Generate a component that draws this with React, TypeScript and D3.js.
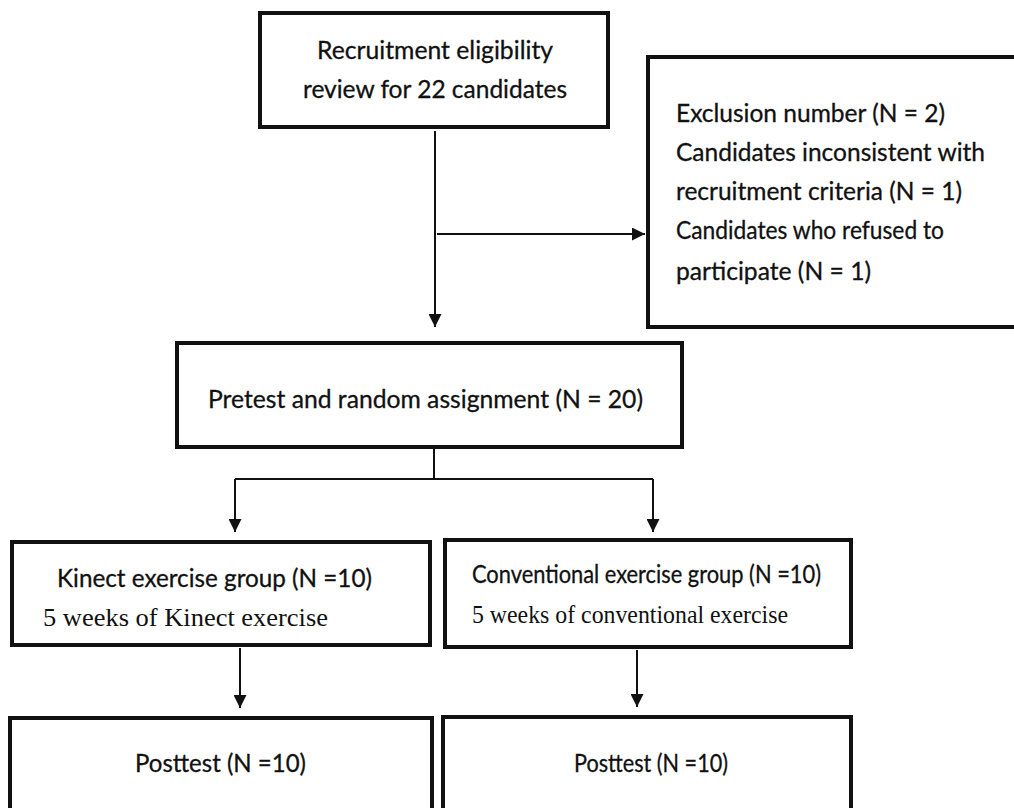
import React, { useEffect, useRef } from 'react';
import * as d3 from 'd3';

// Boxes of the flow chart: [x0, y0, x1, y1]
const boxIds = ['review', 'exclusion', 'pretest', 'kinect', 'conventional', 'postKinect', 'postConv'];
const boxRects: [number, number, number, number][] = [
  [260, 13, 608, 127],
  [648, 57, 1030, 327],
  [177, 343, 682, 447],
  [12, 542, 430, 645],
  [445, 540, 851, 647],
  [10, 718, 432, 830],
  [443, 717, 851, 830],
];

// Text lines and their [x, baseline y, width]
const sansLines = [
  'Recruitment eligibility',
  'review for 22 candidates',
  'Exclusion number (N = 2)',
  'Candidates inconsistent with',
  'recruitment criteria (N = 1)',
  'Candidates who refused to',
  'participate (N = 1)',
  'Pretest and random assignment (N = 20)',
  'Kinect exercise group (N =10)',
  'Conventional exercise group (N =10)',
  'Posttest (N =10)',
  'Posttest (N =10)',
];
const sansPos: [number, number, number][] = [
  [317, 59, 236],
  [303, 98, 264],
  [676, 122, 269],
  [676, 161, 309],
  [676, 200, 286],
  [676, 239, 268],
  [676, 280, 195],
  [208, 408, 435],
  [57, 587, 315],
  [472, 583, 349],
  [135, 772, 171],
  [574, 772, 154],
];

const serifLines = ['5 weeks of Kinect exercise', '5 weeks of conventional exercise'];
const serifPos: [number, number, number][] = [
  [43, 626, 285],
  [472, 623, 316],
];

// Connectors: polylines, arrow at the end if flagged
const connectors: { pts: [number, number][]; arrow: boolean }[] = [
  { pts: [[435, 131], [435, 327]], arrow: true },
  { pts: [[437, 234], [645, 234]], arrow: true },
  { pts: [[434, 447], [434, 479]], arrow: false },
  { pts: [[235, 479], [653, 479]], arrow: false },
  { pts: [[235, 479], [235, 532]], arrow: true },
  { pts: [[653, 479], [653, 532]], arrow: true },
  { pts: [[240, 648], [240, 708]], arrow: true },
  { pts: [[637, 650], [637, 707]], arrow: true },
];

const App: React.FC = () => {
  const svgRef = useRef<SVGSVGElement>(null);

  useEffect(() => {
    if (!svgRef.current) return;
    const svg = d3.select(svgRef.current);
    svg.selectAll('*').remove();

    const defs = svg.append('defs');
    defs.append('marker')
      .attr('id', 'arrow')
      .attr('viewBox', '0 0 10 10')
      .attr('refX', 10)
      .attr('refY', 5)
      .attr('markerWidth', 7)
      .attr('markerHeight', 6.5)
      .attr('markerUnits', 'strokeWidth')
      .attr('orient', 'auto')
      .append('path')
      .attr('d', 'M0,0 L10,5 L0,10 Z')
      .attr('fill', '#111');

    svg.append('rect')
      .attr('width', 1014)
      .attr('height', 808)
      .attr('fill', '#fff');

    const line = d3.line<[number, number]>();

    svg.append('g')
      .selectAll('path')
      .data(connectors)
      .join('path')
      .attr('d', d => line(d.pts))
      .attr('fill', 'none')
      .attr('stroke', '#111')
      .attr('stroke-width', 2)
      .attr('marker-end', d => (d.arrow ? 'url(#arrow)' : null));

    svg.append('g')
      .selectAll('rect')
      .data(boxRects.map((r, i) => ({ id: boxIds[i], r })))
      .join('rect')
      .attr('x', d => d.r[0])
      .attr('y', d => d.r[1])
      .attr('width', d => d.r[2] - d.r[0])
      .attr('height', d => d.r[3] - d.r[1])
      .attr('fill', 'none')
      .attr('stroke', '#111')
      .attr('stroke-width', 4);

    svg.append('g')
      .selectAll('text')
      .data(sansLines.map((t, i) => ({ t, p: sansPos[i] })))
      .join('text')
      .attr('x', d => d.p[0])
      .attr('y', d => d.p[1])
      .attr('textLength', d => d.p[2])
      .attr('lengthAdjust', 'spacingAndGlyphs')
      .attr('font-family', 'Lato, "Open Sans", sans-serif')
      .attr('font-size', 24.5)
      .attr('fill', '#111')
      .attr('stroke', '#111')
      .attr('stroke-width', 0.3)
      .text(d => d.t);

    svg.append('g')
      .selectAll('text')
      .data(serifLines.map((t, i) => ({ t, p: serifPos[i] })))
      .join('text')
      .attr('x', d => d.p[0])
      .attr('y', d => d.p[1])
      .attr('textLength', d => d.p[2])
      .attr('lengthAdjust', 'spacingAndGlyphs')
      .attr('font-family', '"Liberation Serif", "Times New Roman", serif')
      .attr('font-size', 26)
      .attr('fill', '#111')
      .text(d => d.t);
  }, []);

  return (
    <svg
      ref={svgRef}
      width={1014}
      height={808}
      style={{ position: 'absolute', left: 0, top: 0, display: 'block' }}
    />
  );
};

export default App;
